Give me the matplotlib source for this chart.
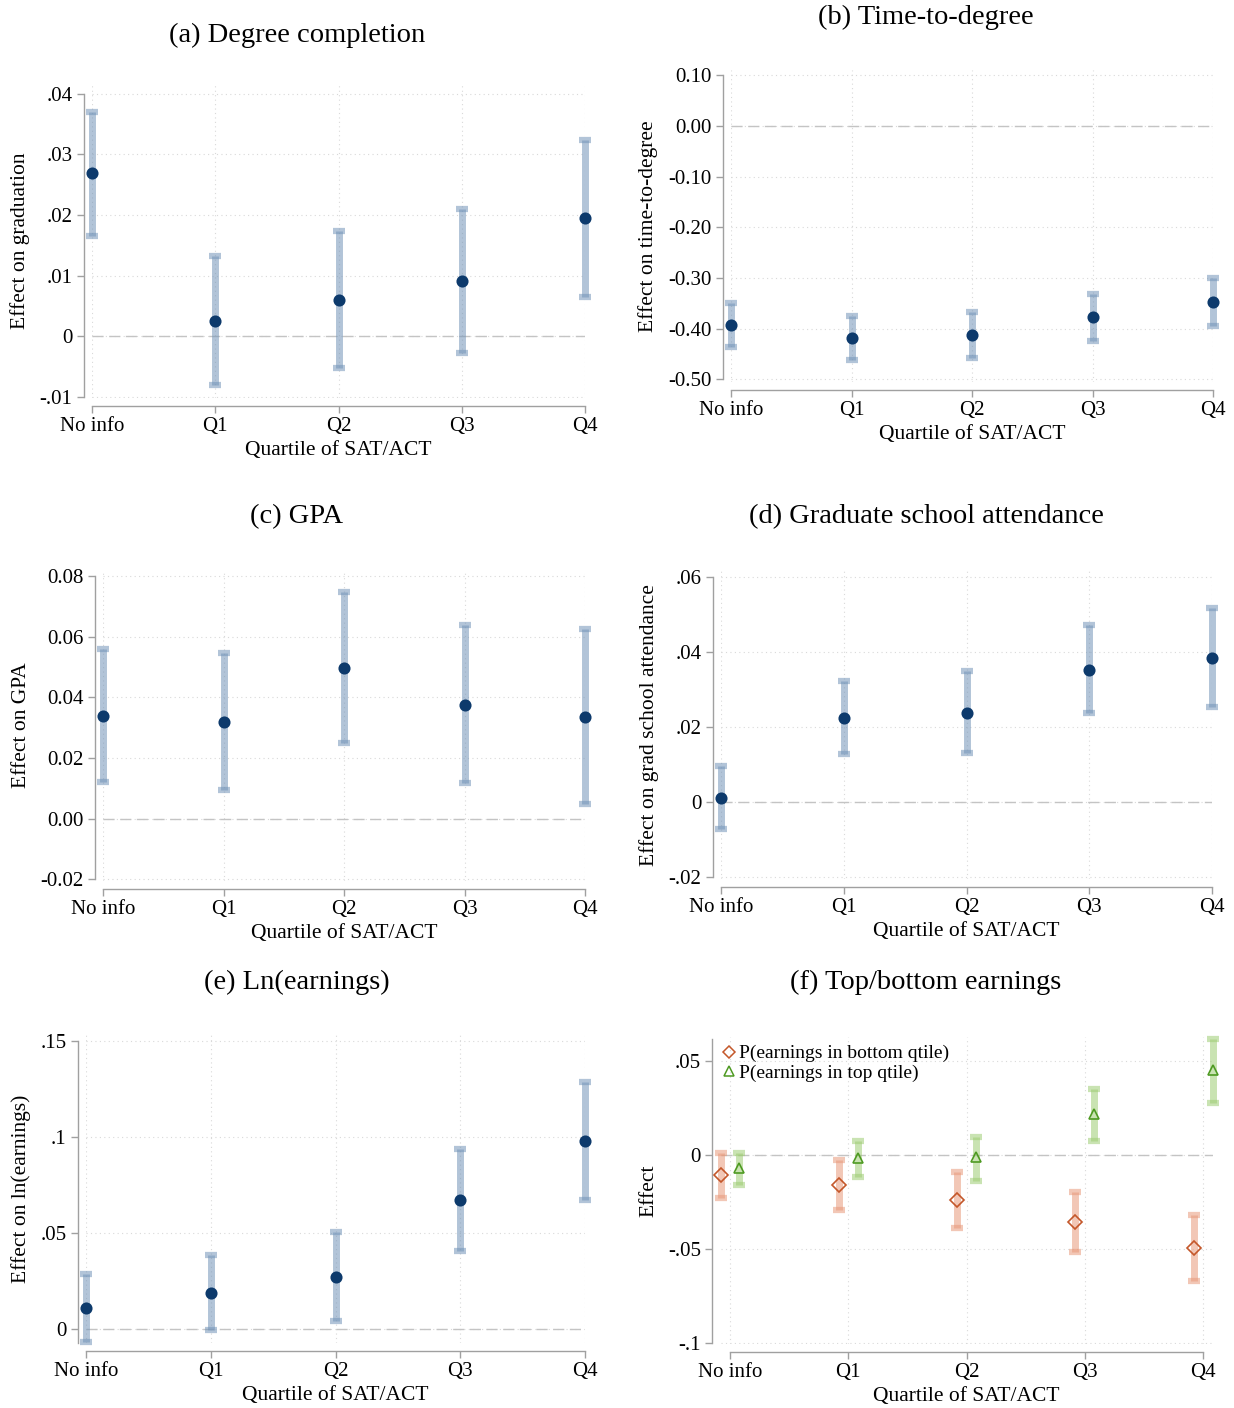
import numpy as np
import matplotlib
matplotlib.use('Agg')
import matplotlib.pyplot as plt

plt.rcParams['font.family'] = ['Liberation Serif', 'DejaVu Serif']

# ---------------- data ----------------
cats = ['No info', 'Q1', 'Q2', 'Q3', 'Q4']
xlabel = 'Quartile of SAT/ACT'

# (a) Degree completion
grad_pt = [0.0269, 0.0025, 0.0060, 0.0091, 0.0195]
grad_hi = [0.0370, 0.0132, 0.0174, 0.0210, 0.0324]
grad_lo = [0.0165, -0.0081, -0.0053, -0.0028, 0.0064]
grad_ticks = [-0.01, 0, 0.01, 0.02, 0.03, 0.04]
grad_tlabels = ['-.01', '0', '.01', '.02', '.03', '.04']

# (b) Time-to-degree
ttd_pt = [-0.3925, -0.418, -0.412, -0.377, -0.347]
ttd_hi = [-0.349, -0.375, -0.367, -0.331, -0.300]
ttd_lo = [-0.436, -0.4615, -0.458, -0.424, -0.394]
ttd_ticks = [-0.5, -0.4, -0.3, -0.2, -0.1, 0.0, 0.1]
ttd_tlabels = ['-0.50', '-0.40', '-0.30', '-0.20', '-0.10', '0.00', '0.10']

# (c) GPA
gpa_pt = [0.0340, 0.0320, 0.0498, 0.0376, 0.0337]
gpa_hi = [0.0561, 0.0545, 0.0746, 0.0640, 0.0627]
gpa_lo = [0.0122, 0.0096, 0.0251, 0.0119, 0.0050]
gpa_ticks = [-0.02, 0.0, 0.02, 0.04, 0.06, 0.08]
gpa_tlabels = ['-0.02', '0.00', '0.02', '0.04', '0.06', '0.08']

# (d) Graduate school attendance
gs_pt = [0.0011, 0.0223, 0.0238, 0.0352, 0.0384]
gs_hi = [0.0095, 0.0321, 0.0350, 0.0472, 0.0517]
gs_lo = [-0.0072, 0.0127, 0.0130, 0.0236, 0.0252]
gs_ticks = [-0.02, 0, 0.02, 0.04, 0.06]
gs_tlabels = ['-.02', '0', '.02', '.04', '.06']

# (e) Ln(earnings)
ln_pt = [0.0109, 0.0188, 0.0271, 0.0672, 0.0979]
ln_hi = [0.0286, 0.0385, 0.0505, 0.0938, 0.1286]
ln_lo = [-0.0068, -0.0005, 0.0042, 0.0406, 0.0672]
ln_ticks = [0, 0.05, 0.1, 0.15]
ln_tlabels = ['0', '.05', '.1', '.15']

# (f) Top/bottom earnings
bot_pt = [-0.0106, -0.0160, -0.0239, -0.0356, -0.0495]
bot_hi = [0.0011, -0.0027, -0.0090, -0.0197, -0.0319]
bot_lo = [-0.0229, -0.0293, -0.0388, -0.0516, -0.0670]
top_pt = [-0.0069, -0.0016, -0.0011, 0.0218, 0.0452]
top_hi = [0.0011, 0.0074, 0.0096, 0.0351, 0.0617]
top_lo = [-0.0160, -0.0117, -0.0138, 0.0074, 0.0277]
tb_ticks = [-0.1, -0.05, 0, 0.05]
tb_tlabels = ['-.1', '-.05', '0', '.05']

# ---------------- layout ----------------
W, H = 1234, 1408
fig = plt.figure(figsize=(W / 100, H / 100), dpi=100)


def rect(l, r, t, b):
    return [l / W, 1 - b / H, (r - l) / W, (b - t) / H]


navy = '#0d3a6c'
ci_blue = (0.45, 0.58, 0.72, 0.55)
grid_c = '#d9d9d9'
fs_tick = 15
fs_lab = 15.5
fs_title = 20.5


def style(ax, ticks, tlabels, ylim, xlim, ylabel, sbounds):
    # spine position first: set_position resets the tick label properties
    for s in ['top', 'right']:
        ax.spines[s].set_visible(False)
    for s in ['left', 'bottom']:
        ax.spines[s].set_color('#a0a0a0')
        ax.spines[s].set_linewidth(1.0)
        ax.spines[s].set_position(('outward', 6))
    ax.set_xlim(*xlim)
    ax.set_ylim(*ylim)
    ax.set_xticks(range(len(cats)))
    ax.set_xticklabels(cats, fontsize=fs_tick)
    ax.set_yticks(ticks)
    ax.set_yticklabels(tlabels, fontsize=fs_tick)
    ax.spines['bottom'].set_bounds(0, len(cats) - 1)
    ax.spines['left'].set_bounds(*sbounds)
    ax.tick_params(axis='both', color='#a0a0a0', length=5, width=1.0, pad=3)
    ax.grid(True, linestyle=(0, (1, 3)), color=grid_c, linewidth=0.8)
    ax.set_axisbelow(True)
    ax.axhline(0, color='#c4c4c4', linestyle=(0, (8, 4)), linewidth=1.0, zorder=1)
    ax.set_ylabel(ylabel, fontsize=fs_lab, labelpad=7)
    ax.set_xlabel(xlabel, fontsize=fs_lab, labelpad=3)


def ci_plot(ax, x, pt, lo, hi, ecol, mcol, marker, mfc, ms):
    pt = np.array(pt)
    yerr = [pt - np.array(lo), np.array(hi) - pt]
    eb = ax.errorbar(x, pt, yerr=yerr, fmt='none', ecolor=ecol, elinewidth=5,
                     capsize=4.5, capthick=4.5, zorder=2)
    for art in eb.lines[1] + eb.lines[2]:
        art.set_clip_on(False)
    ax.plot(x, pt, linestyle='none', marker=marker, color=mcol, mfc=mfc,
            mec=mcol, ms=ms, mew=1.2, zorder=3, clip_on=False)


xs = np.arange(len(cats))

# (a)
ax = fig.add_axes(rect(92, 585, 83, 398))
ci_plot(ax, xs, grad_pt, grad_lo, grad_hi, ci_blue, navy, 'o', navy, 7.5)
style(ax, grad_ticks, grad_tlabels, (-0.0102, 0.0418), (0, 4),
      'Effect on graduation', (-0.01, 0.04))
fig.text(297 / W, 1 - 35 / H, '(a) Degree completion', ha='center', va='center', fontsize=fs_title)

# (b)
ax = fig.add_axes(rect(731, 1213, 70, 382))
ci_plot(ax, xs, ttd_pt, ttd_lo, ttd_hi, ci_blue, navy, 'o', navy, 7.5)
style(ax, ttd_ticks, ttd_tlabels, (-0.505, 0.11), (0, 4),
      'Effect on time-to-degree', (-0.5, 0.1))
fig.text(926 / W, 1 - 17 / H, '(b) Time-to-degree', ha='center', va='center', fontsize=fs_title)

# (c)
ax = fig.add_axes(rect(103, 585, 570, 881))
ci_plot(ax, xs, gpa_pt, gpa_lo, gpa_hi, ci_blue, navy, 'o', navy, 7.5)
style(ax, gpa_ticks, gpa_tlabels, (-0.0205, 0.082), (0, 4),
      'Effect on GPA', (-0.02, 0.08))
fig.text(297 / W, 1 - 517 / H, '(c) GPA', ha='center', va='center', fontsize=fs_title)

# (d)
ax = fig.add_axes(rect(721, 1212, 571, 879))
ci_plot(ax, xs, gs_pt, gs_lo, gs_hi, ci_blue, navy, 'o', navy, 7.5)
style(ax, gs_ticks, gs_tlabels, (-0.0205, 0.0615), (0, 4),
      'Effect on grad school attendance', (-0.02, 0.06))
fig.text(926 / W, 1 - 517 / H, '(d) Graduate school attendance', ha='center', va='center', fontsize=fs_title)

# (e)
ax = fig.add_axes(rect(86, 585, 1035, 1343))
ci_plot(ax, xs, ln_pt, ln_lo, ln_hi, ci_blue, navy, 'o', navy, 7.5)
style(ax, ln_ticks, ln_tlabels, (-0.0075, 0.153), (0, 4),
      'Effect on ln(earnings)', (-0.0075, 0.15))
fig.text(297 / W, 1 - 982 / H, '(e) Ln(earnings)', ha='center', va='center', fontsize=fs_title)

# (f)
ax = fig.add_axes(rect(720.5, 1212.5, 1037, 1344))
off = 0.08
ci_plot(ax, xs - off, bot_pt, bot_lo, bot_hi, (0.91, 0.60, 0.48, 0.55), '#c4572a', 'D', 'none', 7)
ci_plot(ax, xs + off, top_pt, top_lo, top_hi, (0.62, 0.80, 0.45, 0.55), '#4e9a22', '^', 'none', 7.5)
style(ax, tb_ticks, tb_tlabels, (-0.1005, 0.063), (-off, 4 + off),
      'Effect', (-0.1, 0.062))
h1 = ax.plot([], [], linestyle='none', marker='D', mfc='none', mec='#c4572a', ms=6, mew=1.1)[0]
h2 = ax.plot([], [], linestyle='none', marker='^', mfc='none', mec='#4e9a22', ms=7, mew=1.1)[0]
ax.legend([h1, h2], ['P(earnings in bottom qtile)', 'P(earnings in top qtile)'],
          loc='upper left', frameon=False, fontsize=14, handlelength=0.8,
          handletextpad=0.15, labelspacing=0.1, borderaxespad=0.0,
          bbox_to_anchor=(-0.015, 1.0))
fig.text(926 / W, 1 - 982 / H, '(f) Top/bottom earnings', ha='center', va='center', fontsize=fs_title)

fig.savefig('out.png', dpi=100)
